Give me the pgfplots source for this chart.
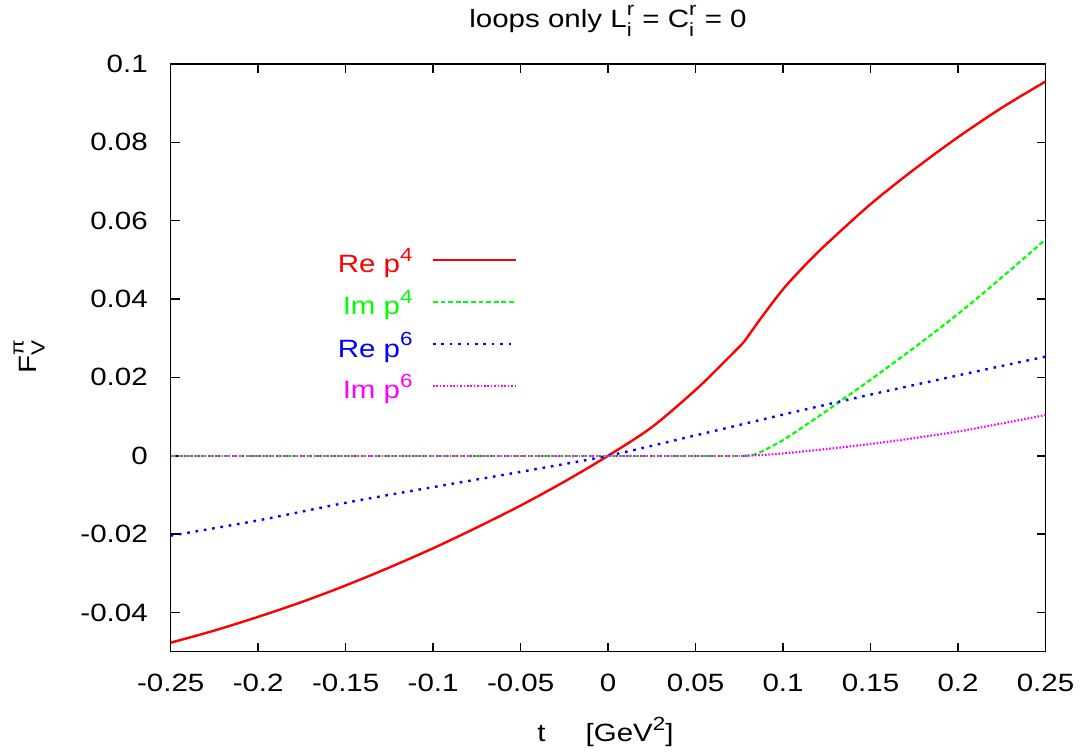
\documentclass[border=0pt]{standalone}
\usepackage{fontspec}
\setmainfont{Liberation Sans}[FakeStretch=1.18]
\usepackage{pgfplots}
\pgfplotsset{compat=1.18}
\newcommand\smallf{\fontsize{9.5}{9.5}\selectfont}
\newcommand\supsub[2]{\rlap{\raisebox{-4.3pt}{\smallf #2}}\raisebox{6.2pt}{\smallf #1}}
\newcommand\sups[1]{\raisebox{5.6pt}{\smallf #1}}
\definecolor{gred}{RGB}{255,0,0}
\definecolor{ggreen}{RGB}{0,255,0}
\definecolor{gblue}{RGB}{0,0,255}
\definecolor{gmag}{RGB}{255,0,255}

\pgfplotstableread{
t y
-0.25 -0.0477
-0.225 -0.0446
-0.20 -0.0411
-0.175 -0.0373
-0.15 -0.0331
-0.125 -0.0285
-0.10 -0.0236
-0.075 -0.0183
-0.05 -0.0127
-0.025 -0.0066
0 0
0.025 0.0073
0.05 0.0168
0.065 0.0233
0.0776 0.0290
}\repa
\pgfplotstableread{
t y
0.0776 0.0290
0.0875 0.0352
0.10 0.0425
0.1125 0.0486
0.125 0.0541
0.15 0.0642
0.175 0.0731
0.20 0.0813
0.225 0.0888
0.25 0.0955
}\repb
\pgfplotstableread{
t y
-0.25 0
0.078 0
}\impa
\pgfplotstableread{
t y
0.078 0
0.085 0.0005
0.10 0.0040
0.1125 0.0077
0.125 0.0115
0.15 0.0194
0.175 0.0276
0.20 0.0362
0.225 0.0455
0.25 0.0552
}\impb
\pgfplotstableread{
t y
-0.25 -0.0204
-0.20 -0.0165
-0.15 -0.0120
-0.10 -0.0080
-0.05 -0.0041
0 0
0.05 0.0052
0.10 0.0105
0.15 0.0156
0.20 0.0205
0.25 0.0253
}\resix
\pgfplotstableread{
t y
-0.25 0
0.078 0
}\imsixa
\pgfplotstableread{
t y
0.078 0
0.10 0.0006
0.15 0.0030
0.20 0.0062
0.25 0.0104
}\imsixb

\begin{document}
\fontsize{12.5}{15}\selectfont
\begin{tikzpicture}
\useasboundingbox (0,0) rectangle (540.5pt,376.5pt);
\begin{axis}[
  at={(85.35pt,50.65pt)}, anchor=south west,
  scale only axis, width=437.4pt, height=293.9pt,
  xmin=-0.25, xmax=0.25, ymin=-0.05, ymax=0.1,
  xtick={-0.25,-0.2,-0.15,-0.1,-0.05,0,0.05,0.1,0.15,0.2,0.25},
  xticklabels={-0.25,-0.2,-0.15,-0.1,-0.05,0,0.05,0.1,0.15,0.2,0.25},
  ytick={-0.04,-0.02,0,0.02,0.04,0.06,0.08,0.1},
  yticklabels={-0.04,-0.02,0,0.02,0.04,0.06,0.08,0.1},
  minor tick num=0,
  tick align=inside,
  major tick length=4.5pt,
  axis line style={line width=0.75pt, black},
  every tick/.style={line width=0.75pt, black},
  xticklabel style={anchor=base, inner sep=0pt, yshift=-20pt},
  yticklabel style={anchor=east, inner sep=0pt, xshift=-11.3pt},
  clip=true,
]
\addplot[gred, line width=1.2pt, smooth] table[x=t,y=y]{\repa};
\addplot[gred, line width=1.2pt, smooth] table[x=t,y=y]{\repb};
\addplot[ggreen, line width=1.1pt, dash pattern=on 2.4pt off 1.4pt] table[x=t,y=y]{\impa};
\addplot[ggreen, line width=1.1pt, dash pattern=on 2.4pt off 1.4pt, smooth] table[x=t,y=y]{\impb};
\addplot[gblue, line width=1.2pt, dash pattern=on 1.3pt off 2.9pt, smooth] table[x=t,y=y]{\resix};
\addplot[gmag, line width=1.1pt, dash pattern=on 0.8pt off 0.9pt] table[x=t,y=y]{\imsixa};
\addplot[gmag, line width=1.1pt, dash pattern=on 0.8pt off 0.9pt, smooth] table[x=t,y=y]{\imsixb};
% legend
\node[gred, anchor=base east, inner sep=0pt] at (axis cs:-0.1115,0.0467) {Re p\sups{4}};
\node[ggreen, anchor=base east, inner sep=0pt] at (axis cs:-0.1115,0.0360) {Im p\sups{4}};
\node[gblue, anchor=base east, inner sep=0pt] at (axis cs:-0.1115,0.0252) {Re p\sups{6}};
\node[gmag, anchor=base east, inner sep=0pt] at (axis cs:-0.1115,0.0146) {Im p\sups{6}};
\draw[gred, line width=1.2pt] (axis cs:-0.1001,0.0500) -- (axis cs:-0.0526,0.0500);
\draw[ggreen, line width=1.1pt, dash pattern=on 2.4pt off 1.4pt] (axis cs:-0.1001,0.0393) -- (axis cs:-0.0526,0.0393);
\draw[gblue, line width=1.2pt, dash pattern=on 1.3pt off 2.9pt] (axis cs:-0.1001,0.0285) -- (axis cs:-0.0526,0.0285);
\draw[gmag, line width=1.1pt, dash pattern=on 0.8pt off 0.9pt] (axis cs:-0.1001,0.0179) -- (axis cs:-0.0526,0.0179);
\end{axis}
\node[anchor=base] at (304pt,362.5pt) {loops only L\supsub{r}{i} = C\supsub{r}{i} = 0};
\node[anchor=base] at (302.75pt,5.75pt) {t\hspace{1.6em}[GeV\sups{2}]};
\node[rotate=90, anchor=base] at (18pt,198.25pt) {F\supsub{π}{V}};
\end{tikzpicture}
\end{document}
